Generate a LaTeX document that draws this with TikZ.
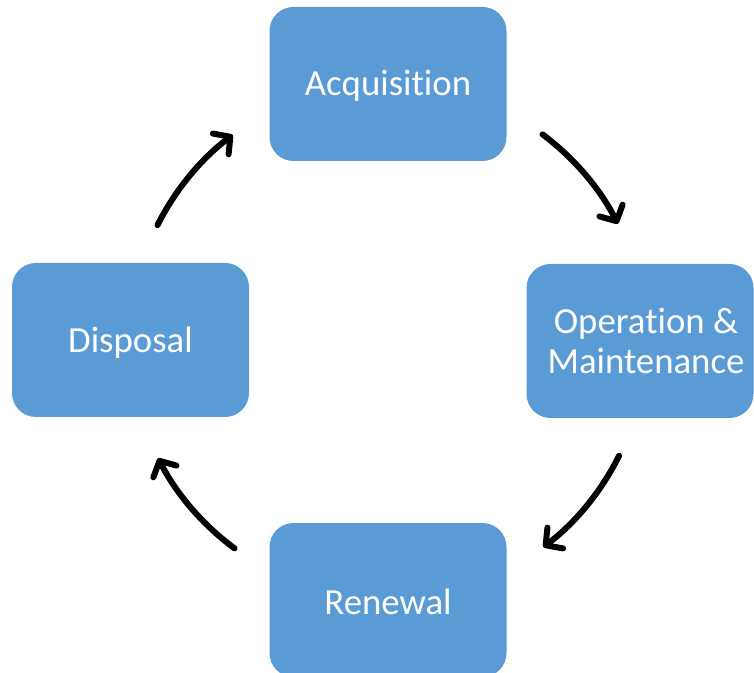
\documentclass[tikz,border=0pt]{standalone}
\usepackage{fontspec}
\setmainfont{Carlito}[Ligatures={NoCommon}]
\usetikzlibrary{arrows.meta}
\definecolor{boxblue}{HTML}{5B9BD5}
\begin{document}
\begin{tikzpicture}[x=1pt,y=1pt,
  stagebox/.style={fill=boxblue, draw=none, rounded corners=24pt, minimum width=237pt, minimum height=154pt, inner sep=0pt},
  stagetext/.style={text=white, font=\fontsize{36.8}{40}\selectfont, align=center, inner sep=0pt},
  cyclearrow/.style={line width=6pt, line cap=round, -{Straight Barb[length=12pt,width=26pt,line width=6pt,round]}}]
\useasboundingbox (0,0) rectangle (754,672);
\clip (0,0) rectangle (754,672);
\coordinate (c) at (388,331);
\node[stagebox] (acq) at (388,588) {};
\node[stagetext] (acqtext) at (388,586) {Acquisition};
\node[stagebox, minimum width=227pt] (om) at (640,331) {};
\node[stagetext] (omtext) at (646,331) {Operation \&\\Maintenance};
\node[stagebox] (ren) at (388,72) {};
\node[stagetext] (rentext) at (388,70) {Renewal};
\node[stagebox] (dis) at (130.5,332) {};
\node[stagetext] (distext) at (130.5,329) {Disposal};
\draw[cyclearrow] ([shift={(53.2:258)}]c) arc[start angle=53.2, end angle=27, radius=258];
\draw[cyclearrow] ([shift={(-26.4:258)}]c) arc[start angle=-26.4, end angle=-53, radius=258];
\draw[cyclearrow] ([shift={(233.5:258)}]c) arc[start angle=233.5, end angle=207, radius=258];
\draw[cyclearrow] ([shift={(153.3:258)}]c) arc[start angle=153.3, end angle=127, radius=258];
\end{tikzpicture}
\end{document}
